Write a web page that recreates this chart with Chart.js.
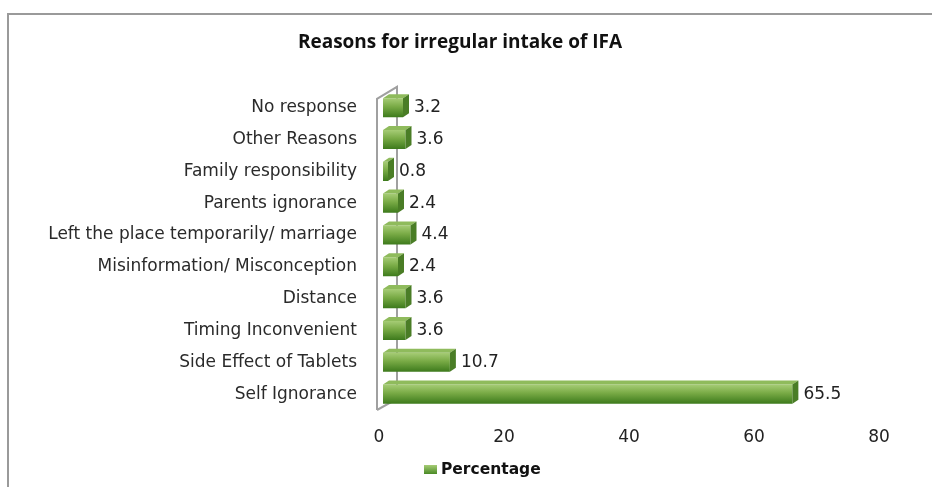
<!DOCTYPE html>
<html>
<head>
<meta charset="utf-8">
<script src="https://cdn.jsdelivr.net/npm/chart.js@4.4.1/dist/chart.umd.min.js"></script>
<style>
  html, body { margin: 0; padding: 0; background: #fff; }
  #wrap { width: 932px; height: 487px; }
</style>
</head>
<body>
<div id="wrap"><canvas id="reasonsChart" width="932" height="487"></canvas></div>
<script>
  const reasons = ['No response', 'Other Reasons', 'Family responsibility', 'Parents ignorance',
    'Left the place temporarily/ marriage', 'Misinformation/ Misconception', 'Distance',
    'Timing Inconvenient', 'Side Effect of Tablets', 'Self Ignorance'];
  const percentage = [3.2, 3.6, 0.8, 2.4, 4.4, 2.4, 3.6, 3.6, 10.7, 65.5];
  const xTicks = [0, 20, 40, 60, 80];

  const DX = 6, DY = -4; // fake 3d depth

  function barGradient(c) {
    const chart = c.chart;
    const y = chart.scales.y;
    if (!y || !chart.chartArea) return '#6a9c38';
    const cy = y.getPixelForValue(c.dataIndex);
    const h = 19;
    const g = chart.ctx.createLinearGradient(0, cy - h / 2, 0, cy + h / 2);
    g.addColorStop(0, '#a6cc75');
    g.addColorStop(0.45, '#78aa45');
    g.addColorStop(1, '#3d7a1c');
    return g;
  }

  // frame + wall behind bars
  const backdrop = {
    id: 'backdrop',
    beforeDraw(chart) {
      const ctx = chart.ctx;
      ctx.save();
      ctx.strokeStyle = '#9a9a9a';
      ctx.lineWidth = 2;
      ctx.beginPath();
      ctx.moveTo(8, 487);
      ctx.lineTo(8, 14);
      ctx.lineTo(932, 14);
      ctx.stroke();
      ctx.restore();
    },
    beforeDatasetsDraw(chart) {
      const ctx = chart.ctx;
      const a = chart.chartArea;
      const fx = a.left - 6, bx = a.left + 14;
      ctx.save();
      ctx.strokeStyle = '#a0a0a0';
      ctx.lineWidth = 2;
      ctx.beginPath();
      ctx.moveTo(fx, a.bottom);
      ctx.lineTo(fx, a.top + 7);
      ctx.lineTo(bx, a.top - 5);
      ctx.lineTo(bx, a.bottom - 11);
      ctx.lineTo(fx, a.bottom);
      ctx.stroke();
      ctx.restore();
    },
    afterDraw(chart) {
      // legend
      const ctx = chart.ctx;
      ctx.save();
      const g = ctx.createLinearGradient(0, 465, 0, 474);
      g.addColorStop(0, '#a6cc75');
      g.addColorStop(1, '#4a8a26');
      ctx.fillStyle = g;
      ctx.fillRect(424, 465, 13, 9);
      ctx.fillStyle = '#111';
      ctx.font = 'bold 15.5px "DejaVu Sans"';
      ctx.textBaseline = 'middle';
      ctx.textAlign = 'left';
      ctx.fillText(chart.data.datasets[0].label, 441, 469.5);
      ctx.restore();
    }
  };

  // top and side faces of each bar, plus value labels
  const barFaces = {
    id: 'barFaces',
    afterDatasetsDraw(chart) {
      const ctx = chart.ctx;
      const meta = chart.getDatasetMeta(0);
      ctx.save();
      meta.data.forEach(function(bar, i) {
        const l = bar.base, r = bar.x;
        const t = bar.y - bar.height / 2, b = bar.y + bar.height / 2;
        ctx.fillStyle = '#8fbb5c';
        ctx.beginPath();
        ctx.moveTo(l, t);
        ctx.lineTo(l + DX, t + DY);
        ctx.lineTo(r + DX, t + DY);
        ctx.lineTo(r, t);
        ctx.closePath();
        ctx.fill();
        ctx.fillStyle = '#4a7d26';
        ctx.beginPath();
        ctx.moveTo(r, t);
        ctx.lineTo(r + DX, t + DY);
        ctx.lineTo(r + DX, b + DY);
        ctx.lineTo(r, b);
        ctx.closePath();
        ctx.fill();

        ctx.fillStyle = '#222';
        ctx.font = '17px "DejaVu Sans"';
        ctx.textBaseline = 'middle';
        ctx.textAlign = 'left';
        ctx.fillText(String(percentage[i]), r + DX + 5, bar.y);
      });
      ctx.restore();
    }
  };

  const data = {
    labels: reasons,
    datasets: [{
      label: 'Percentage',
      data: percentage,
      backgroundColor: barGradient,
      borderWidth: 0,
      barPercentage: 0.6,
      categoryPercentage: 1.0
    }]
  };

  const config = {
    type: 'bar',
    data: data,
    options: {
      indexAxis: 'y',
      responsive: false,
      animation: false,
      layout: { padding: { top: 31, right: 49, left: 37, bottom: 0 } },
      scales: {
        x: {
          min: 0,
          max: 80,
          afterBuildTicks: function(axis) {
            axis.ticks = xTicks.map(function(v) { return { value: v }; });
          },
          afterFit: function(axis) { axis.height = 77; },
          grid: { display: false, drawTicks: false },
          border: { display: false },
          ticks: {
            padding: 17,
            labelOffset: -4,
            color: '#222',
            font: { family: 'DejaVu Sans', size: 17 }
          }
        },
        y: {
          afterFit: function(axis) { axis.width = 346; },
          grid: { display: false, drawTicks: false },
          border: { display: false },
          ticks: {
            padding: 26,
            color: '#2a2a2a',
            font: { family: 'DejaVu Sans', size: 17 }
          }
        }
      },
      plugins: {
        title: {
          display: true,
          text: 'Reasons for irregular intake of IFA',
          color: '#111',
          font: { family: 'Open Sans', size: 19, weight: 'bold' },
          padding: { top: 0, bottom: 38 }
        },
        legend: { display: false },
        tooltip: { enabled: false }
      }
    },
    plugins: [backdrop, barFaces]
  };

  window.onload = function() {
    const ctx = document.getElementById('reasonsChart').getContext('2d');
    new Chart(ctx, config);
  };
</script>
</body>
</html>
